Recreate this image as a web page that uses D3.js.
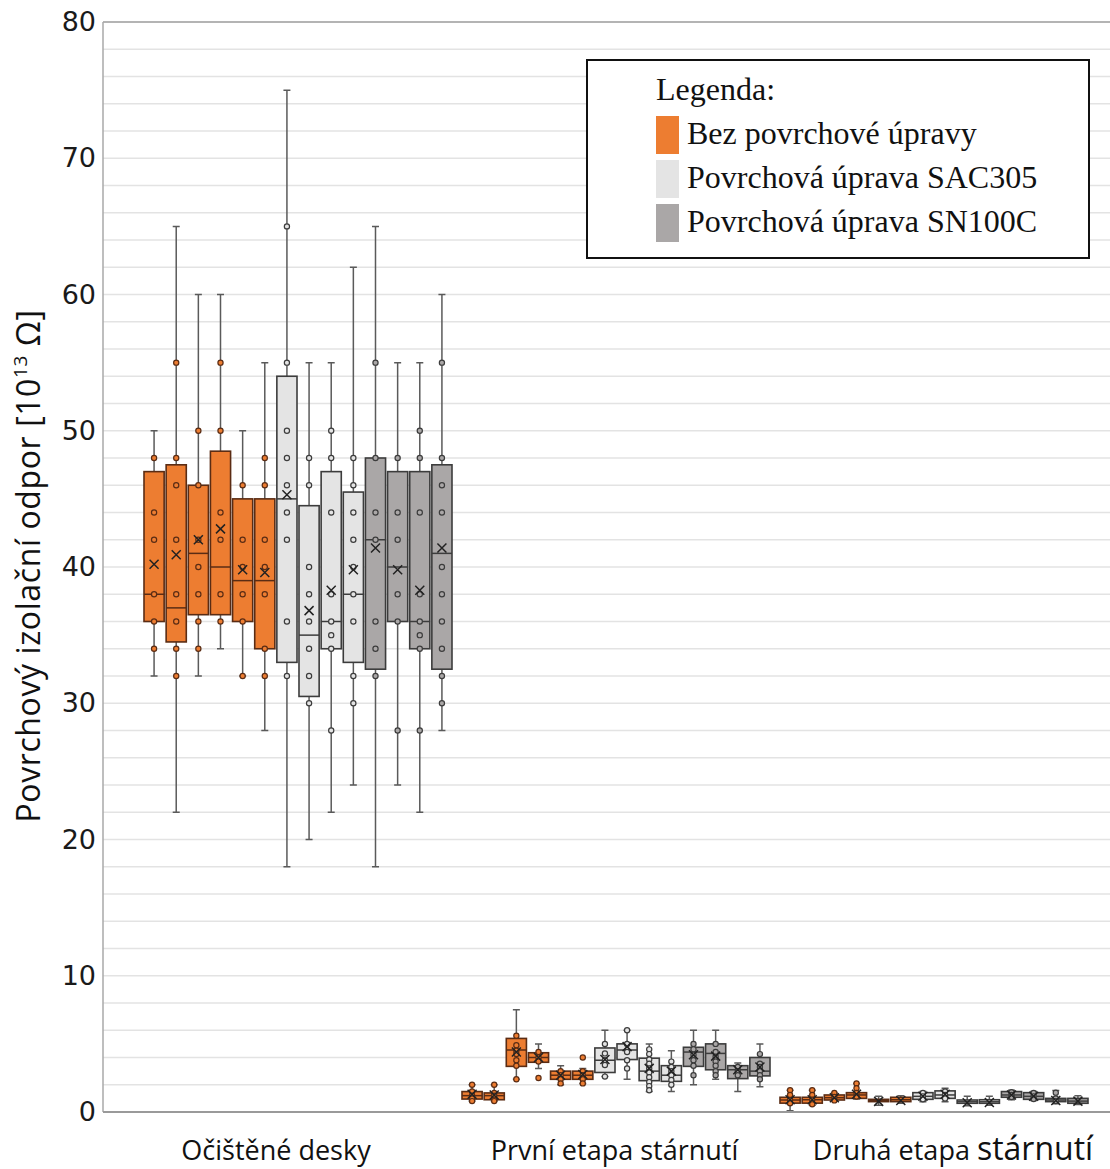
<!DOCTYPE html>
<html>
<head>
<meta charset="utf-8">
<script src="https://cdn.jsdelivr.net/npm/d3@7"></script>
<style>
  html, body { margin: 0; padding: 0; background: #fff; }
  svg { display: block; }
</style>
</head>
<body>
<div id="chart"></div>
<script>
var groups = ['Očištěné desky', 'První etapa stárnutí', 'Druhá etapa stárnutí'];
var seriesNames = ['Bez povrchové úpravy', 'Povrchová úprava SAC305', 'Povrchová úprava SN100C'];
var seriesColors = ['#ed7d31', '#e4e4e4', '#aaa7a7'];
var seriesStrokes = ['#5a2c14', '#3c3c3c', '#3c3c3c'];
var boxSeries = [0, 0, 0, 0, 0, 0, 1, 1, 1, 1, 2, 2, 2, 2];
var yTicks = [0, 10, 20, 30, 40, 50, 60, 70, 80];

// [low whisker, q1, median, q3, high whisker, mean]
var boxesClean = [
  [32, 36, 38, 47, 50, 40.2],
  [22, 34.5, 37, 47.5, 65, 40.9],
  [32, 36.5, 41, 46, 60, 42.0],
  [34, 36.5, 40, 48.5, 60, 42.8],
  [32, 36, 39, 45, 50, 39.8],
  [28, 34, 39, 45, 55, 39.6],
  [18, 33, 45, 54, 75, 45.3],
  [20, 30.5, 35, 44.5, 55, 36.8],
  [22, 34, 36, 47, 55, 38.3],
  [24, 33, 38, 45.5, 62, 39.8],
  [18, 32.5, 42, 48, 65, 41.4],
  [24, 36, 40, 47, 55, 39.8],
  [22, 34, 36, 47, 55, 38.3],
  [28, 32.5, 41, 47.5, 60, 41.4]
];
var pointsClean = [
  [48, 44, 42, 38, 36, 34],
  [55, 48, 46, 42, 38, 36, 34, 32],
  [50, 46, 42, 40, 38, 36, 34],
  [55, 50, 44, 42, 38, 36],
  [46, 42, 40, 38, 36, 32],
  [48, 46, 42, 40, 38, 34, 32],
  [65, 55, 50, 48, 46, 44, 42, 36, 32],
  [48, 46, 40, 38, 36, 34, 32, 30],
  [50, 48, 44, 38, 36, 35, 34, 28],
  [48, 46, 44, 42, 40, 38, 36, 32, 30],
  [55, 48, 44, 42, 36, 34, 32],
  [48, 44, 42, 38, 36, 28],
  [50, 48, 44, 38, 36, 35, 34, 28],
  [55, 48, 46, 44, 40, 38, 36, 34, 32, 30]
];

var boxesAging1 = [
  [0.8, 0.95, 1.2, 1.5, 2.0, 1.3],
  [0.8, 0.9, 1.2, 1.4, 2.0, 1.25],
  [2.4, 3.35, 4.55, 5.4, 7.5, 4.4],
  [3.2, 3.65, 4.0, 4.35, 5.0, 4.0],
  [2.0, 2.4, 2.7, 3.0, 3.4, 2.7],
  [2.1, 2.4, 2.7, 3.0, 3.2, 2.75],
  [2.6, 2.9, 3.8, 4.7, 6.0, 3.85],
  [2.4, 3.85, 4.55, 5.0, 6.0, 4.8],
  [1.5, 2.3, 3.0, 3.95, 5.0, 3.2],
  [1.5, 2.25, 2.7, 3.4, 4.5, 3.0],
  [2.0, 3.35, 4.4, 4.75, 6.0, 4.2],
  [2.4, 3.1, 4.3, 5.0, 6.0, 4.1],
  [1.5, 2.45, 3.1, 3.4, 3.6, 3.1],
  [1.85, 2.65, 3.0, 4.0, 5.0, 3.3]
];
var pointsAging1 = [
  [2.0, 1.5, 1.2, 1.0, 0.8],
  [2.0, 1.4, 1.2, 0.9, 0.8],
  [5.6, 4.9, 4.5, 4.25, 3.8, 3.4, 2.4],
  [4.4, 4.0, 3.7, 2.5],
  [3.0, 2.7, 2.4, 2.1],
  [4.0, 3.0, 2.7, 2.4, 2.1],
  [5.0, 4.3, 3.8, 3.45, 2.6],
  [6.0, 5.0, 4.4, 3.8, 3.2],
  [4.6, 4.25, 3.85, 3.55, 3.2, 2.9, 2.55, 2.2, 1.9, 1.6],
  [3.7, 3.3, 3.0, 2.7, 2.35, 2.0],
  [5.0, 4.6, 4.2, 3.8, 3.4, 2.7],
  [5.0, 4.4, 4.05, 3.7, 3.4, 3.0, 2.7],
  [3.3, 3.0, 2.7],
  [4.25, 3.55, 3.3, 3.0, 2.7, 2.4]
];

var boxesAging2 = [
  [0.1, 0.65, 0.88, 1.08, 1.6, 0.9],
  [0.5, 0.65, 0.9, 1.08, 1.6, 0.9],
  [0.8, 0.88, 1.05, 1.25, 1.4, 1.05],
  [0.95, 1.0, 1.25, 1.42, 2.1, 1.3],
  [0.5, 0.76, 0.85, 0.93, 1.15, 0.78],
  [0.65, 0.76, 0.9, 1.08, 1.2, 0.85],
  [0.75, 0.93, 1.15, 1.42, 1.5, 1.15],
  [0.75, 1.0, 1.25, 1.55, 1.75, 1.3],
  [0.45, 0.64, 0.75, 0.88, 1.15, 0.68],
  [0.5, 0.64, 0.75, 0.9, 1.15, 0.7],
  [0.9, 1.08, 1.25, 1.5, 1.6, 1.25],
  [0.85, 0.93, 1.15, 1.42, 1.5, 1.15],
  [0.6, 0.76, 0.88, 1.0, 1.57, 0.85],
  [0.55, 0.64, 0.8, 1.0, 1.2, 0.8]
];
var pointsAging2 = [
  [1.6, 1.25, 0.88, 0.64],
  [1.6, 1.25, 0.9, 0.56],
  [1.4, 1.1, 0.85],
  [2.1, 1.74, 1.4, 1.13],
  [],
  [],
  [1.4, 1.15, 0.93],
  [1.5, 1.25, 1.0],
  [],
  [],
  [1.45, 1.25, 1.1],
  [1.4, 1.15, 0.95],
  [1.42, 1.0, 0.8],
  []
];

(function () {
  'use strict';

  var width = 1110,
      height = 1169,
      plotLeft = 103,
      plotRight = 1110,
      boxesAll = [boxesClean, boxesAging1, boxesAging2],
      pointsAll = [pointsClean, pointsAging1, pointsAging2];

  var svg = d3.select('#chart').append('svg')
      .attr('width', width)
      .attr('height', height);

  var y = d3.scaleLinear().domain([0, 80]).range([1112, 22]);
  var x = d3.scaleBand().domain(groups).range([139, 1093]);
  var xi = d3.scaleBand().domain(d3.range(14)).range([0, 308]).paddingInner(0.09);
  var xLabel = d3.scalePoint().domain(groups).range([276, 953]);

  // grid every 2 units
  svg.append('g').attr('class', 'grid')
      .selectAll('line')
      .data(d3.range(2, 80, 2))
      .enter()
      .append('line')
      .attr('x1', plotLeft)
      .attr('x2', plotRight)
      .attr('y1', function (d) { return y(d); })
      .attr('y2', function (d) { return y(d); })
      .attr('stroke', '#e3e3e3')
      .attr('stroke-width', 1.5);

  svg.append('line')
      .attr('x1', plotLeft).attr('x2', plotRight)
      .attr('y1', y(80)).attr('y2', y(80))
      .attr('stroke', '#b4b4b4').attr('stroke-width', 2);

  // y axis
  var yAxis = svg.append('g')
      .attr('transform', 'translate(' + (plotLeft - 7) + ',0)')
      .call(d3.axisLeft(y).tickValues(yTicks).tickSize(0).tickPadding(0));
  yAxis.select('.domain').remove();
  yAxis.selectAll('text')
      .attr('font-family', 'DejaVu Sans, sans-serif')
      .attr('font-size', 27)
      .attr('fill', '#1a1a1a');

  svg.append('line')
      .attr('x1', plotLeft).attr('x2', plotLeft)
      .attr('y1', y(80)).attr('y2', y(0))
      .attr('stroke', '#a8a8a8').attr('stroke-width', 1.5);

  // boxes
  var groupG = svg.selectAll('.group')
      .data(groups)
      .enter()
      .append('g')
      .attr('class', 'group')
      .attr('transform', function (d) {
        return 'translate(' + (x(d) + x.bandwidth() / 2 - 154) + ',0)';
      });

  groupG.each(function (g, gi) {
    var boxes = boxesAll[gi],
        pts = pointsAll[gi];

    var box = d3.select(this).selectAll('.box')
        .data(boxes)
        .enter()
        .append('g')
        .attr('class', 'box')
        .attr('transform', function (d, i) { return 'translate(' + xi(i) + ',0)'; });

    var bw = xi.bandwidth(),
        cx = bw / 2;

    box.append('line')
        .attr('x1', cx).attr('x2', cx)
        .attr('y1', function (d) { return y(d[0]); })
        .attr('y2', function (d) { return y(d[4]); })
        .attr('stroke', '#5a5a5a')
        .attr('stroke-width', 1.5);

    box.append('path')
        .attr('d', function (d) {
          return 'M' + (cx - 3.5) + ',' + y(d[0]) + 'H' + (cx + 3.5) +
              'M' + (cx - 3.5) + ',' + y(d[4]) + 'H' + (cx + 3.5);
        })
        .attr('stroke', '#5a5a5a')
        .attr('stroke-width', 1.5);

    box.append('rect')
        .attr('x', 0)
        .attr('width', bw)
        .attr('y', function (d) { return y(d[3]); })
        .attr('height', function (d) { return Math.max(1, y(d[1]) - y(d[3])); })
        .attr('fill', function (d, i) { return seriesColors[boxSeries[i]]; })
        .attr('stroke', function (d, i) { return seriesStrokes[boxSeries[i]]; })
        .attr('stroke-width', 1.6);

    box.append('line')
        .attr('x1', 0).attr('x2', bw)
        .attr('y1', function (d) { return y(d[2]); })
        .attr('y2', function (d) { return y(d[2]); })
        .attr('stroke', function (d, i) { return seriesStrokes[boxSeries[i]]; })
        .attr('stroke-width', 1.5);

    box.each(function (d, i) {
      d3.select(this).selectAll('circle')
          .data(pts[i])
          .enter()
          .append('circle')
          .attr('cx', cx)
          .attr('cy', function (v) { return y(v); })
          .attr('r', 2.6)
          .attr('fill', seriesColors[boxSeries[i]])
          .attr('stroke', seriesStrokes[boxSeries[i]])
          .attr('stroke-width', 1.2);
    });

    box.append('path')
        .attr('d', function (d) {
          var my = y(d[5]), s = 4.5;
          return 'M' + (cx - s) + ',' + (my - s) + 'L' + (cx + s) + ',' + (my + s) +
              'M' + (cx - s) + ',' + (my + s) + 'L' + (cx + s) + ',' + (my - s);
        })
        .attr('stroke', '#222')
        .attr('stroke-width', 1.5)
        .attr('fill', 'none');
  });

  // x axis line
  svg.append('line')
      .attr('x1', plotLeft).attr('x2', plotRight)
      .attr('y1', y(0)).attr('y2', y(0))
      .attr('stroke', '#9a9a9a').attr('stroke-width', 2);

  // category labels
  svg.selectAll('.xlabel')
      .data(groups)
      .enter()
      .append('text')
      .attr('class', 'xlabel')
      .attr('x', function (d) { return xLabel(d); })
      .attr('y', 1160)
      .attr('text-anchor', 'middle')
      .attr('font-family', 'Open Sans, sans-serif')
      .attr('font-size', 27)
      .attr('fill', '#111')
      .each(function (d, i) {
        var t = d3.select(this);
        if (i === groups.length - 1) {
          var words = d.split(' ');
          t.append('tspan').text(words.slice(0, -1).join(' ') + ' ');
          t.append('tspan').attr('font-size', 32).text(words[words.length - 1]);
        } else {
          t.text(d);
        }
      });

  // y title
  var yTitle = svg.append('text')
      .attr('transform', 'translate(40,566) rotate(-90)')
      .attr('text-anchor', 'middle')
      .attr('font-family', 'Open Sans, sans-serif')
      .attr('font-size', 32)
      .attr('letter-spacing', 0.6)
      .attr('fill', '#111');
  yTitle.append('tspan').text('Povrchový izolační odpor [10');
  yTitle.append('tspan').attr('font-size', 19).attr('dy', -13).text('13');
  yTitle.append('tspan').attr('dy', 13).text(' Ω]');

  // legend
  var legend = svg.append('g').attr('transform', 'translate(587,60)');
  legend.append('rect')
      .attr('width', 502).attr('height', 198)
      .attr('fill', '#fff')
      .attr('stroke', '#111').attr('stroke-width', 2);
  legend.append('text')
      .attr('x', 69).attr('y', 40)
      .attr('font-family', 'Liberation Serif, Times New Roman, serif')
      .attr('font-size', 32)
      .attr('fill', '#111')
      .text('Legenda:');
  var item = legend.selectAll('.item')
      .data(seriesNames)
      .enter()
      .append('g')
      .attr('class', 'item')
      .attr('transform', function (d, i) { return 'translate(69,' + (56 + i * 44) + ')'; });
  item.append('rect')
      .attr('width', 23).attr('height', 38)
      .attr('fill', function (d, i) { return seriesColors[i]; });
  item.append('text')
      .attr('x', 31).attr('y', 28)
      .attr('font-family', 'Liberation Serif, Times New Roman, serif')
      .attr('font-size', 32)
      .attr('fill', '#111')
      .text(function (d) { return d; });
}());
</script>
</body>
</html>
